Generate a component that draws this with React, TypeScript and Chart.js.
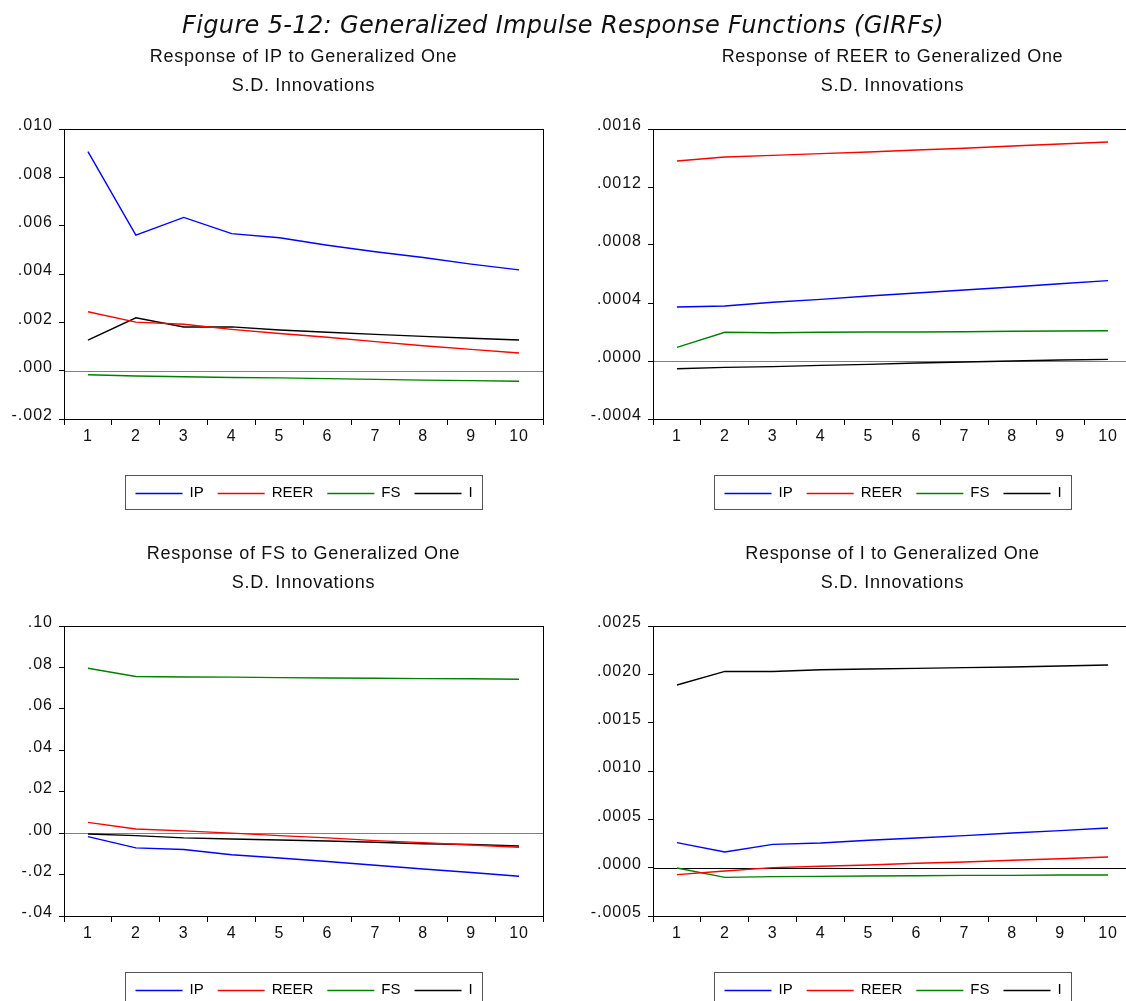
import React, { useEffect, useRef } from "react";
import { Chart, registerables } from "chart.js";

Chart.register(...registerables);

// Forecast horizons (periods after the shock)
const horizons = ["1", "2", "3", "4", "5", "6", "7", "8", "9", "10"];

// Shocked variables, in legend order, and their line colours
const shockNames = ["IP", "REER", "FS", "I"];
const shockColors = ["#0000ff", "#ff0000", "#008000", "#000000"];

// Response of IP
const ipToIP = [0.00906, 0.00561, 0.00634, 0.00567, 0.0055, 0.00519, 0.00492, 0.00468, 0.00441, 0.00417];
const ipToREER = [0.00244, 0.00201, 0.00192, 0.00171, 0.00154, 0.00138, 0.0012, 0.00103, 0.00088, 0.00073];
const ipToFS = [-0.00017, -0.00022, -0.00025, -0.00028, -0.0003, -0.00033, -0.00036, -0.00039, -0.00041, -0.00044];
const ipToI = [0.00126, 0.00219, 0.00181, 0.00181, 0.00168, 0.00159, 0.0015, 0.00142, 0.00134, 0.00127];
const ipTicks = [-0.002, 0, 0.002, 0.004, 0.006, 0.008, 0.01];

// Response of REER
const reerToIP = [0.000372, 0.000379, 0.000405, 0.000425, 0.000448, 0.000469, 0.00049, 0.00051, 0.000533, 0.000554];
const reerToREER = [0.001379, 0.001407, 0.001418, 0.00143, 0.001441, 0.001455, 0.001467, 0.001483, 0.001497, 0.00151];
const reerToFS = [0.000094, 0.000198, 0.000195, 0.000198, 0.0002, 0.0002, 0.000202, 0.000205, 0.000207, 0.000209];
const reerToI = [-0.000053, -0.000044, -0.000039, -0.00003, -0.000023, -0.000014, -0.000007, 0, 0.000007, 0.000011];
const reerTicks = [-0.0004, 0, 0.0004, 0.0008, 0.0012, 0.0016];

// Response of FS
const fsToIP = [-0.0017, -0.0071, -0.0079, -0.0104, -0.012, -0.0137, -0.0155, -0.0173, -0.019, -0.0208];
const fsToREER = [0.0052, 0.002, 0.0011, 0, -0.0012, -0.0023, -0.0036, -0.0046, -0.0057, -0.0068];
const fsToFS = [0.0796, 0.0756, 0.0754, 0.0753, 0.0751, 0.0749, 0.0748, 0.0746, 0.0745, 0.0743];
const fsToI = [-0.0004, -0.0012, -0.0023, -0.0028, -0.0033, -0.0038, -0.0044, -0.0051, -0.0055, -0.0062];
const fsTicks = [-0.04, -0.02, 0, 0.02, 0.04, 0.06, 0.08, 0.1];

// Response of I
const iToIP = [0.000259, 0.000162, 0.000241, 0.000255, 0.000283, 0.000307, 0.000331, 0.000359, 0.000383, 0.00041];
const iToREER = [-0.000072, -0.000034, 0, 0.000014, 0.000028, 0.000045, 0.000059, 0.000076, 0.000093, 0.00011];
const iToFS = [-0.000003, -0.0001, -0.000093, -0.00009, -0.000086, -0.000083, -0.00008, -0.00008, -0.000076, -0.000076];
const iToI = [0.00189, 0.00203, 0.00203, 0.002048, 0.002055, 0.002062, 0.002069, 0.002076, 0.002086, 0.002097];
const iTicks = [-0.0005, 0, 0.0005, 0.001, 0.0015, 0.002, 0.0025];

const SANS = '"Liberation Sans", Arial, sans-serif';

// EViews-style number: no leading zero (".010", "-.002")
function formatTick(v: number, decimals: number): string {
  const body = Math.abs(v).toFixed(decimals).replace(/^0/, "");
  return (v < -1e-12 ? "-" : "") + body;
}

type PanelProps = {
  left: number;
  top: number;
  width: number;
  height: number;
  yAxisWidth: number;
  padRight: number;
  padBottom: number;
  titleLines: string[];
  series: number[][];
  ticks: number[];
  decimals: number;
  zeroColor: string;
};

function Panel(props: PanelProps) {
  const ref = useRef<HTMLCanvasElement | null>(null);

  useEffect(() => {
    const canvas = ref.current;
    if (!canvas) return;

    const decor = {
      id: "panelDecor",
      beforeDraw(chart: any) {
        chart.ctx.letterSpacing = "1px";
      },
      beforeDatasetsDraw(chart: any) {
        const { ctx, chartArea, scales } = chart;
        const y0 = Math.round(scales.y.getPixelForValue(0)) + 0.5;
        ctx.save();
        ctx.strokeStyle = props.zeroColor;
        ctx.lineWidth = 1.2;
        ctx.beginPath();
        ctx.moveTo(chartArea.left, y0);
        ctx.lineTo(chartArea.right, y0);
        ctx.stroke();
        ctx.restore();
      },
      afterDatasetsDraw(chart: any) {
        const { ctx, chartArea } = chart;
        ctx.save();
        ctx.strokeStyle = "#000";
        ctx.lineWidth = 1;
        ctx.strokeRect(
          Math.round(chartArea.left) + 0.5,
          Math.round(chartArea.top) + 0.5,
          Math.round(chartArea.right - chartArea.left),
          Math.round(chartArea.bottom - chartArea.top)
        );
        ctx.restore();
      },
      afterDraw(chart: any) {
        const { ctx, chartArea } = chart;
        const cx = (chartArea.left + chartArea.right) / 2;
        ctx.save();
        // panel heading
        ctx.fillStyle = "#111";
        ctx.font = `18px ${SANS}`;
        ctx.letterSpacing = "0.7px";
        ctx.textAlign = "center";
        ctx.textBaseline = "middle";
        props.titleLines.forEach((line, i) => {
          ctx.fillText(line, cx, chartArea.top - 72 + i * 29.5);
        });

        // boxed legend below the plot
        ctx.letterSpacing = "0px";
        ctx.font = `15px ${SANS}`;
        ctx.textAlign = "left";
        const boxW = 357;
        const boxH = 34;
        const bx = Math.round(cx - boxW / 2) + 0.5;
        const by = Math.round(chartArea.bottom + 56) + 0.5;
        ctx.strokeStyle = "#555";
        ctx.lineWidth = 1;
        ctx.strokeRect(bx, by, boxW, boxH);
        const midY = by + boxH / 2;
        let x = bx + 10;
        chart.data.datasets.forEach((ds: any) => {
          ctx.strokeStyle = ds.borderColor;
          ctx.lineWidth = 1.4;
          ctx.beginPath();
          ctx.moveTo(x, Math.round(midY) + 0.5);
          ctx.lineTo(x + 47, Math.round(midY) + 0.5);
          ctx.stroke();
          x += 54;
          ctx.fillStyle = "#000";
          ctx.fillText(ds.label, x, midY);
          x += ctx.measureText(ds.label).width + 14;
        });
        ctx.restore();
        ctx.letterSpacing = "0px";
      },
    };

    const chart = new Chart(canvas, {
      type: "line",
      data: {
        labels: horizons,
        datasets: props.series.map((values, i) => ({
          label: shockNames[i],
          data: values,
          borderColor: shockColors[i],
          backgroundColor: shockColors[i],
          borderWidth: 1.4,
          pointRadius: 0,
          tension: 0,
          fill: false,
        })),
      },
      options: {
        responsive: false,
        animation: false,
        events: [],
        layout: {
          padding: { left: 0, right: props.padRight, top: 129, bottom: props.padBottom },
        },
        plugins: {
          legend: { display: false },
          title: { display: false },
          tooltip: { enabled: false },
        },
        scales: {
          x: {
            type: "category",
            offset: true,
            grid: {
              offset: true,
              drawOnChartArea: false,
              drawTicks: true,
              tickLength: 6,
              color: "#000",
            },
            border: { display: false },
            ticks: {
              color: "#111",
              font: { family: SANS, size: 16 },
              padding: 2,
              maxRotation: 0,
              autoSkip: false,
            },
            afterFit: (s: any) => {
              s.height = 30;
            },
          },
          y: {
            type: "linear",
            min: props.ticks[0],
            max: props.ticks[props.ticks.length - 1],
            afterBuildTicks: (s: any) => {
              s.ticks = props.ticks.map((v) => ({ value: v }));
            },
            grid: {
              drawOnChartArea: false,
              drawTicks: true,
              tickLength: 5,
              color: "#000",
            },
            border: { display: false },
            ticks: {
              color: "#111",
              font: { family: SANS, size: 16 },
              padding: 6,
              labelOffset: -3,
              callback: (v: any) => formatTick(Number(v), props.decimals),
            },
            afterFit: (s: any) => {
              s.width = props.yAxisWidth;
            },
          },
        },
      },
      plugins: [decor],
    } as any);

    return () => chart.destroy();
  }, []);

  return (
    <canvas
      ref={ref}
      width={props.width}
      height={props.height}
      style={{
        position: "absolute",
        left: props.left,
        top: props.top,
        width: props.width,
        height: props.height,
      }}
    />
  );
}

export default function App() {
  return (
    <div
      style={{
        position: "absolute",
        left: 0,
        top: 0,
        width: 1126,
        height: 1001,
        overflow: "hidden",
        background: "#fff",
      }}
    >
      <div
        style={{
          position: "absolute",
          left: 0,
          top: 11,
          width: 1126,
          textAlign: "center",
          font: 'italic 24px "DejaVu Sans", sans-serif',
          letterSpacing: "0.35px",
          lineHeight: "28px",
          color: "#111",
          whiteSpace: "nowrap",
          zIndex: 2,
        }}
      >
        Figure 5-12: Generalized Impulse Response Functions (GIRFs)
      </div>
      <Panel
        left={0}
        top={0}
        width={563}
        height={520}
        yAxisWidth={64}
        padRight={20}
        padBottom={71}
        titleLines={["Response of IP to Generalized One", "S.D. Innovations"]}
        series={[ipToIP, ipToREER, ipToFS, ipToI]}
        ticks={ipTicks}
        decimals={3}
        zeroColor="#808080"
      />
      <Panel
        left={563}
        top={0}
        width={580}
        height={520}
        yAxisWidth={90}
        padRight={11}
        padBottom={71}
        titleLines={["Response of REER to Generalized One", "S.D. Innovations"]}
        series={[reerToIP, reerToREER, reerToFS, reerToI]}
        ticks={reerTicks}
        decimals={4}
        zeroColor="#808080"
      />
      <Panel
        left={0}
        top={497}
        width={563}
        height={504}
        yAxisWidth={64}
        padRight={20}
        padBottom={55}
        titleLines={["Response of FS to Generalized One", "S.D. Innovations"]}
        series={[fsToIP, fsToREER, fsToFS, fsToI]}
        ticks={fsTicks}
        decimals={2}
        zeroColor="#808080"
      />
      <Panel
        left={563}
        top={497}
        width={580}
        height={504}
        yAxisWidth={90}
        padRight={11}
        padBottom={55}
        titleLines={["Response of I to Generalized One", "S.D. Innovations"]}
        series={[iToIP, iToREER, iToFS, iToI]}
        ticks={iTicks}
        decimals={4}
        zeroColor="#000000"
      />
    </div>
  );
}
